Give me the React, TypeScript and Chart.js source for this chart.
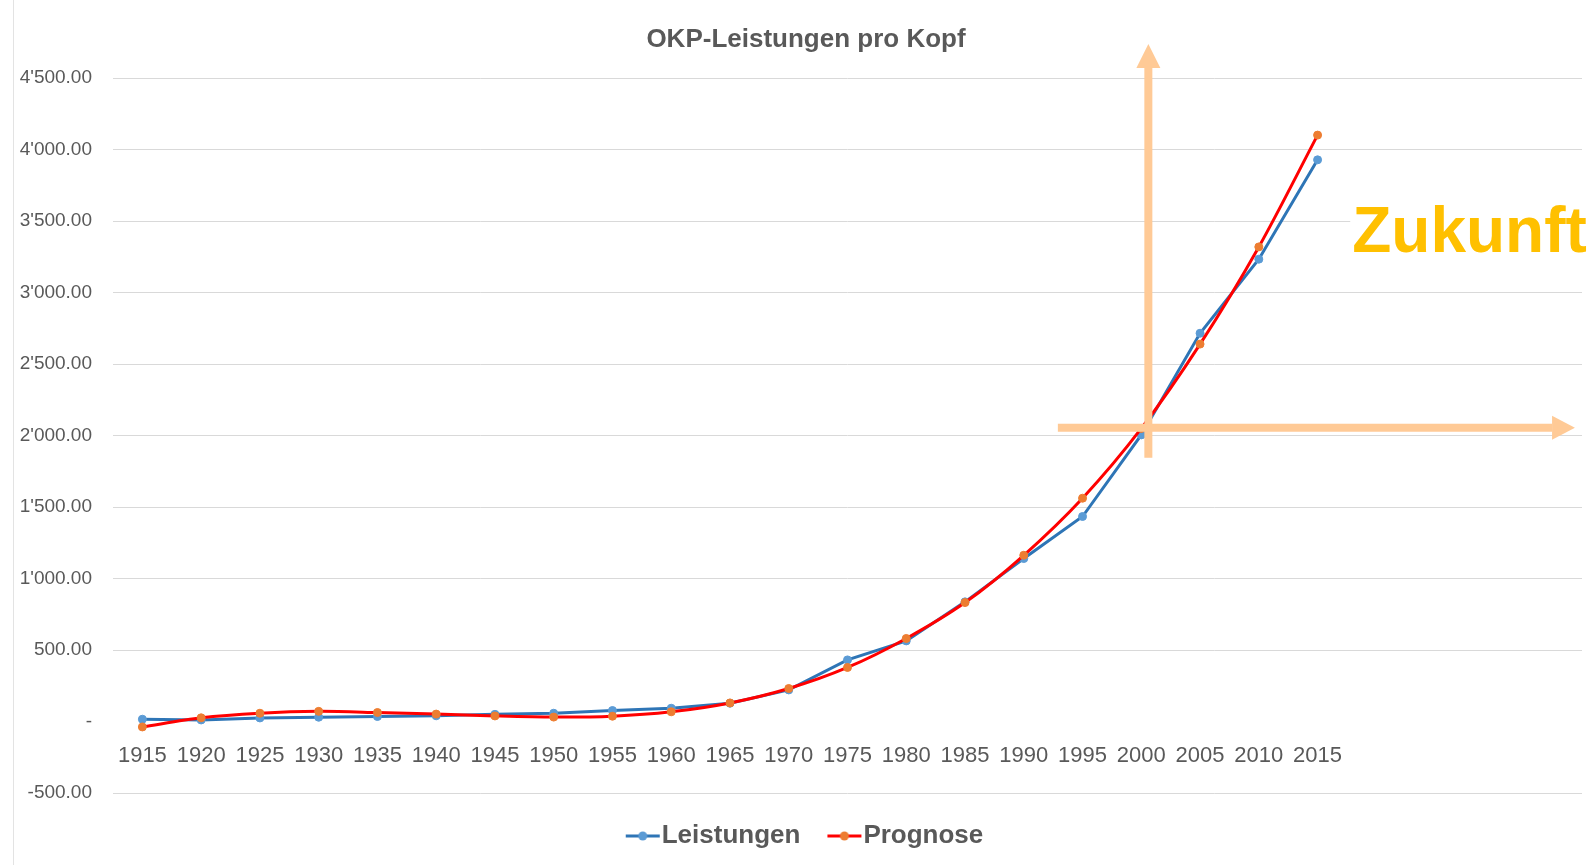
import React, { useEffect, useRef } from "react";
import { Chart, registerables } from "chart.js";

Chart.register(...registerables);

// ---- data ----
const years = [
  "1915", "1920", "1925", "1930", "1935", "1940", "1945", "1950", "1955", "1960",
  "1965", "1970", "1975", "1980", "1985", "1990", "1995", "2000", "2005", "2010", "2015",
];
const emptySlots = ["", "", "", ""];
const categories = [...years, ...emptySlots];

const leistungen = [
  16, 11, 25, 30, 35, 40, 50, 58, 77, 93,
  128, 221, 431, 564, 837, 1140, 1434, 2005, 2716, 3234, 3929,
];
const prognose = [
  -38, 26, 58, 71, 63, 52, 39, 31, 37, 68,
  130, 231, 378, 581, 832, 1163, 1562, 2050, 2640, 3320, 4102,
];

const yMin = -500;
const yMax = 4500;
const yStep = 500;

const TITLE = "OKP-Leistungen pro Kopf";
const SERIES_NAMES = ["Leistungen", "Prognose"];
const NOTE_TEXT = "Zukunft";

// annotation anchors in data units (category index, value)
const VERT_ARROW = { x: 17.12, from: 1845, headBase: 4572, tip: 4740 };
const HORZ_ARROW = { y: 2055, from: 15.58, headBase: 23.99, tip: 24.38 };
const NOTE_ANCHOR = { x: 20.59, y: 3285 };

// ---- styles ----
const GRAY = "#595959";
const NARROW = "'Liberation Sans Narrow', 'Liberation Sans', Arial, sans-serif";
const SANS = "'Liberation Sans', Arial, sans-serif";
const BLUE_LINE = "#2E75B6";
const BLUE_DOT = "#5B9BD5";
const RED_LINE = "#FF0000";
const ORANGE_DOT = "#ED7D31";
const ARROW_COLOR = "#FFCA96";

function fmt(v: number): string {
  if (v === 0) return "-";
  const neg = v < 0;
  const [i, d] = Math.abs(v).toFixed(2).split(".");
  const withSep = i.replace(/\B(?=(\d{3})+(?!\d))/g, "'");
  return (neg ? "-" : "") + withSep + "." + d;
}

function makeMarker(lineColor: string, dotColor: string): HTMLCanvasElement {
  const c = document.createElement("canvas");
  c.width = 48;
  c.height = 14;
  const ctx = c.getContext("2d")!;
  ctx.strokeStyle = lineColor;
  ctx.lineWidth = 3;
  ctx.beginPath();
  ctx.moveTo(11, 7);
  ctx.lineTo(45, 7);
  ctx.stroke();
  ctx.fillStyle = dotColor;
  ctx.beginPath();
  ctx.arc(28, 7, 4.5, 0, Math.PI * 2);
  ctx.fill();
  return c;
}

// let the y tick labels extend left of the axis box (no clipping)
const unclipPlugin = {
  id: "unclipYLabels",
  afterUpdate(chart: any) {
    const ys = chart.scales.y;
    if (ys) ys._computeLabelArea = () => undefined;
  },
};

const annotationPlugin = {
  id: "futureAnnotations",
  afterDatasetsDraw(chart: any) {
    const { ctx, scales } = chart;
    const xs = scales.x;
    const ys = scales.y;
    ctx.save();
    ctx.fillStyle = ARROW_COLOR;
    const shaft = 8;
    const head = 24;

    // vertical arrow
    const vx = xs.getPixelForValue(VERT_ARROW.x);
    const vFrom = ys.getPixelForValue(VERT_ARROW.from);
    const vBase = ys.getPixelForValue(VERT_ARROW.headBase);
    const vTip = ys.getPixelForValue(VERT_ARROW.tip);
    ctx.fillRect(vx - shaft / 2, vBase, shaft, vFrom - vBase);
    ctx.beginPath();
    ctx.moveTo(vx - head / 2, vBase);
    ctx.lineTo(vx + head / 2, vBase);
    ctx.lineTo(vx, vTip);
    ctx.closePath();
    ctx.fill();

    // horizontal arrow
    const hy = ys.getPixelForValue(HORZ_ARROW.y);
    const hFrom = xs.getPixelForValue(HORZ_ARROW.from);
    const hBase = xs.getPixelForValue(HORZ_ARROW.headBase);
    const hTip = xs.getPixelForValue(HORZ_ARROW.tip);
    ctx.fillRect(hFrom, hy - shaft / 2, hBase - hFrom, shaft);
    ctx.beginPath();
    ctx.moveTo(hBase, hy - head / 2);
    ctx.lineTo(hBase, hy + head / 2);
    ctx.lineTo(hTip, hy);
    ctx.closePath();
    ctx.fill();

    // note text
    const tx = xs.getPixelForValue(NOTE_ANCHOR.x);
    const ty = ys.getPixelForValue(NOTE_ANCHOR.y);
    ctx.fillStyle = "#FFFFFF";
    ctx.fillRect(tx - 2, ty - 60, chart.width - tx + 2, 74);
    ctx.font = `bold 64px ${SANS}`;
    ctx.fillStyle = "#FFC000";
    ctx.textAlign = "left";
    ctx.textBaseline = "alphabetic";
    ctx.fillText(NOTE_TEXT, tx, ty);
    ctx.restore();
  },
};

export default function App() {
  const canvasRef = useRef<HTMLCanvasElement>(null);

  useEffect(() => {
    const canvas = canvasRef.current;
    if (!canvas) return;
    const markers = [makeMarker(BLUE_LINE, BLUE_DOT), makeMarker(RED_LINE, ORANGE_DOT)];

    const chart = new Chart(canvas, {
      type: "line",
      data: {
        labels: categories,
        datasets: [
          {
            label: SERIES_NAMES[0],
            data: leistungen,
            borderColor: BLUE_LINE,
            backgroundColor: BLUE_DOT,
            borderWidth: 3,
            pointRadius: 4,
            pointBackgroundColor: BLUE_DOT,
            pointBorderColor: BLUE_DOT,
            pointBorderWidth: 1,
            tension: 0,
            order: 1,
          },
          {
            label: SERIES_NAMES[1],
            data: prognose,
            borderColor: RED_LINE,
            backgroundColor: ORANGE_DOT,
            borderWidth: 3,
            pointRadius: 4,
            pointBackgroundColor: ORANGE_DOT,
            pointBorderColor: ORANGE_DOT,
            pointBorderWidth: 1,
            tension: 0.3,
            order: 0,
          },
        ],
      },
      options: {
        animation: false,
        responsive: false,
        devicePixelRatio: 1,
        events: [],
        layout: { padding: { left: 30, right: 9, top: 0, bottom: 6 } },
        scales: {
          x: {
            type: "category",
            offset: true,
            position: { y: 0 } as any,
            grid: { display: false, drawTicks: false },
            border: { display: false },
            ticks: {
              autoSkip: false,
              maxRotation: 0,
              minRotation: 0,
              padding: 21,
              color: GRAY,
              font: { family: NARROW, size: 22 },
            },
          },
          y: {
            min: yMin,
            max: yMax,
            afterFit: (scale: any) => {
              scale.width = 83;
            },
            grid: {
              drawTicks: false,
              color: (c: any) => (c.tick && c.tick.value === 0 ? "rgba(0,0,0,0)" : "#D9D9D9"),
              lineWidth: 1,
            },
            border: { display: false },
            ticks: {
              stepSize: yStep,
              padding: 21,
              color: GRAY,
              font: { family: NARROW, size: 19 },
              callback: (v: any) => fmt(Number(v)),
            },
          },
        },
        plugins: {
          title: {
            display: true,
            text: TITLE,
            color: GRAY,
            font: { family: SANS, size: 26, weight: "bold" },
            padding: { top: 24, bottom: 23 },
          },
          legend: {
            display: true,
            position: "bottom",
            labels: {
              sort: (a: any, b: any) => a.datasetIndex - b.datasetIndex,
              usePointStyle: true,
              pointStyleWidth: 20,
              padding: 30,
              color: GRAY,
              font: { family: SANS, size: 26, weight: "bold" },
              generateLabels: (ch: any) => {
                const items = (Chart.defaults.plugins.legend.labels as any).generateLabels(ch);
                items.forEach((it: any) => {
                  it.pointStyle = markers[it.datasetIndex];
                });
                return items;
              },
            },
          },
          tooltip: { enabled: false },
        },
      },
      plugins: [unclipPlugin, annotationPlugin],
    } as any);

    return () => chart.destroy();
  }, []);

  return (
    <div
      style={{
        position: "fixed",
        left: 0,
        top: 0,
        width: 1591,
        height: 865,
        background: "#FFFFFF",
        overflow: "hidden",
      }}
    >
      <div
        style={{
          position: "absolute",
          left: 13,
          top: 0,
          width: 1,
          height: 865,
          background: "#E3E3E3",
        }}
      />
      <canvas
        ref={canvasRef}
        width={1591}
        height={865}
        style={{ position: "absolute", left: 0, top: 0, width: 1591, height: 865 }}
      />
    </div>
  );
}
